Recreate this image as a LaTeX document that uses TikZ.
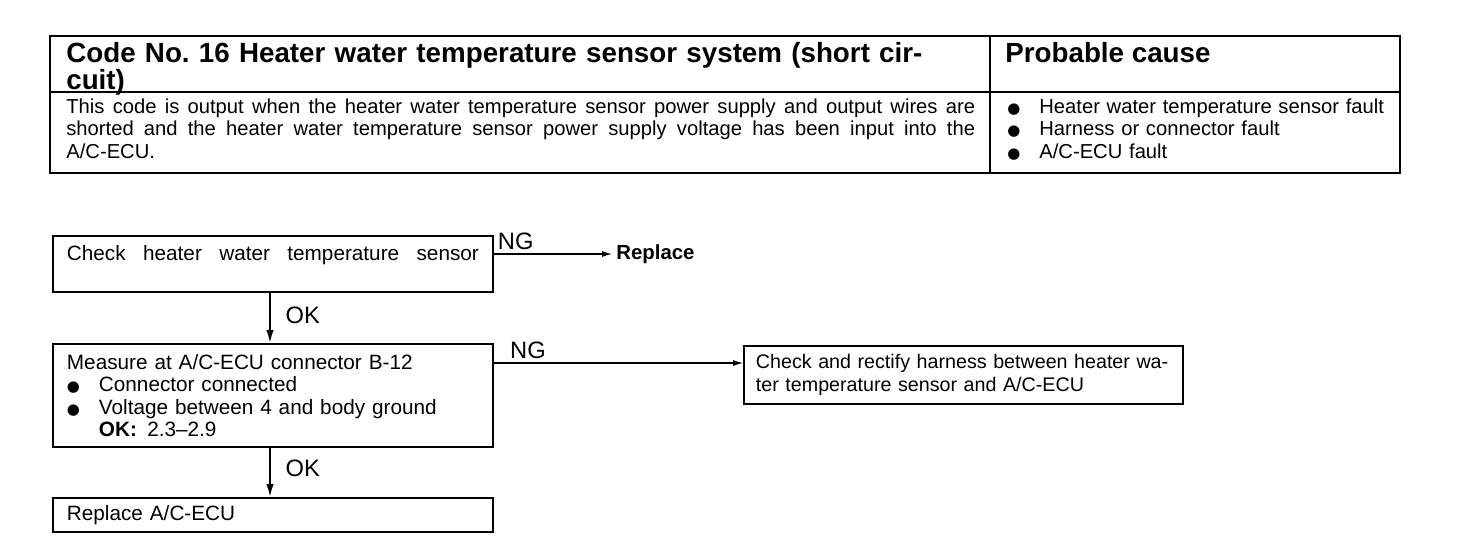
\documentclass[tikz,border=0pt]{standalone}
\usepackage{fontspec}
\setmainfont{Liberation Sans}
\newfontfamily\symfont{DejaVu Sans}
\usetikzlibrary{calc,arrows.meta,positioning}

\newcommand{\bul}{\makebox[0.64cm][l]{\symfont\fontsize{8.5}{8.5}\selectfont ●}}

\tikzset{
  flowbox/.style={draw, line width=1.1pt, anchor=north west, inner xsep=0.28cm,
    inner ysep=0.1cm, text width=8.24cm, align=left, minimum width=8.8cm},
  okarrow/.style={line width=1.1pt, -{Latex[length=2.6mm,width=1.5mm]}},
  ngline/.style={line width=0.6pt, -{Latex[length=2mm,width=1.2mm]}},
  flowlabel/.style={font=\fontsize{13.5}{15}\selectfont},
}

\begin{document}
\begin{tikzpicture}[x=0.02cm, y=-0.02cm, font=\fontsize{11.8}{12.8}\selectfont]
  \fill[white] (0,0) rectangle (1472,552);
  \useasboundingbox (0,0) rectangle (1472,552);

  % Header table
  \draw[line width=1.1pt] (50,36) rectangle (1400,173);
  \draw[line width=1.1pt] (990,36) -- (990,173);
  \draw[line width=1.1pt] (50,92) -- (1400,92);
  \node[anchor=base west, inner sep=0, text width=18.38cm, align=left,
    font=\bfseries\fontsize{15.8}{11.3}\selectfont] (title) at (66,62)
    {Code No.\ 16 Heater water temperature sensor system (short cir-\\cuit)};
  \node[anchor=base west, inner sep=0, font=\bfseries\fontsize{15.8}{11.3}\selectfont]
    (cause) at (1005,62) {Probable cause};
  \node[anchor=base west, inner sep=0, text width=18.18cm, align=justify,
    font=\fontsize{11.5}{13}\selectfont] (desc) at (66,113)
    {This code is output when the heater water temperature sensor power supply and output wires are\linebreak
     shorted and the heater water temperature sensor power supply voltage has been input into the\linebreak
     A/C-ECU.};
  \node[anchor=base west, inner sep=0, text width=7.6cm, align=left,
    font=\fontsize{11.5}{13}\selectfont] (faults) at (1007,113)
    {\bul Heater water temperature sensor fault\\
     \bul Harness or connector fault\\
     \bul A/C-ECU fault};

  % Flow chart
  \node[flowbox, minimum height=1.12cm] (check) at (52,235)
    {Check\hfill heater\hfill water\hfill temperature\hfill sensor\\\mbox{}};
  \node[flowbox, minimum height=2.06cm] (measure) at (52,343)
    {Measure at A/C-ECU connector B-12\\
     \bul Connector connected\\
     \bul Voltage between 4 and body ground\\
     \hspace*{0.64cm}\textbf{OK:}\enspace 2.3--2.9};
  \node[flowbox, minimum height=0.68cm] (ecu) at (52,497) {Replace A/C-ECU};
  \node[flowbox, minimum height=1.16cm, minimum width=8.78cm, inner xsep=0.24cm, text width=8.3cm,
    font=\fontsize{11.2}{12.8}\selectfont] (harness) at (743,345)
    {\mbox{Check and rectify harness between heater wa-}\\ter temperature sensor and A/C-ECU};
  \node[anchor=west, inner xsep=0.08cm, inner ysep=0, font=\bfseries\fontsize{11.6}{13}\selectfont]
    (replace) at (612,254) {Replace};

  \coordinate (okx) at (270,0);
  \coordinate (ngtwo) at (0,363);

  \draw[okarrow] (check.south -| okx) -- (measure.north -| okx)
    node[flowlabel, pos=0.45, right=5pt] {OK};
  \draw[okarrow] (measure.south -| okx) -- (ecu.north -| okx)
    node[flowlabel, pos=0.42, right=5pt] {OK};
  \draw[ngline] (check.east |- replace.west) -- (replace.west)
    node[flowlabel, pos=0, anchor=south west, inner sep=2pt] {NG};
  \draw[ngline] (measure.east |- ngtwo) -- (harness.west |- ngtwo)
    node[flowlabel, pos=0, anchor=south west, inner sep=2pt, xshift=7pt] {NG};
\end{tikzpicture}
\end{document}
